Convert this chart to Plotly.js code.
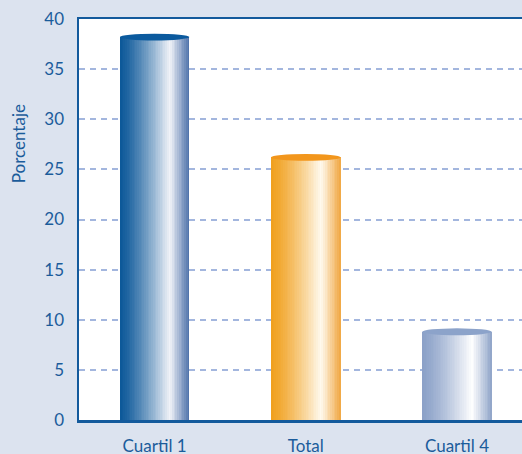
<!DOCTYPE html>
<html>
<head>
<meta charset="utf-8">
<script src="https://cdn.plot.ly/plotly-3.0.1.min.js"></script>
<style>
  html, body { margin: 0; padding: 0; background: #dce3ef; }
  #chart { width: 522px; height: 454px; }
</style>
</head>
<body>
<div id="chart"></div>
<script>
const categories = ["Cuartil 1", "Total", "Cuartil 4"];
const values = [38.2, 26.2, 8.8];
const yTicks = [0, 5, 10, 15, 20, 25, 30, 35, 40];

// cylinder shading: left edge, highlight, right edge, lid
const shadeLeft = ["#0c5899", "#f0a01e", "#8ba1c8"];
const shadeLight = ["#f3f4f9", "#fffaf0", "#ffffff"];
const shadeRight = ["#4a6fa8", "#f0a640", "#8ea3c8"];
const lidColor = ["#0b5a9e", "#f2961c", "#8ca3ca"];

const ink = "#1b5c9b";
const barWidth = 0.46;
const slices = 40;
const lidHalf = 0.34;

function hexToRgb(h) {
  return [1, 3, 5].map((i) => parseInt(h.slice(i, i + 2), 16));
}

function mix(a, b, t) {
  const ca = hexToRgb(a), cb = hexToRgb(b);
  const c = ca.map((v, i) => Math.round(v + (cb[i] - v) * t));
  return `rgb(${c[0]},${c[1]},${c[2]})`;
}

function shadeAt(i, t) {
  const peak = 0.72;
  if (t < peak) return mix(shadeLeft[i], shadeLight[i], Math.pow(t / peak, 1.3));
  return mix(shadeLight[i], shadeRight[i], (t - peak) / (1 - peak));
}

const traces = [];
for (let k = 0; k < slices; k++) {
  const t = (k + 0.5) / slices;
  const step = barWidth / slices;
  traces.push({
    type: "bar",
    x: categories,
    y: values,
    width: k === slices - 1 ? step : step * 1.6,
    offset: -barWidth / 2 + k * step,
    marker: { color: categories.map((_, i) => shadeAt(i, t)), line: { width: 0 } },
    hoverinfo: k === 0 ? "x+y" : "skip",
    showlegend: false,
  });
}

const shapes = values.map((v, i) => ({
  type: "circle",
  xref: "x",
  yref: "y",
  x0: i - barWidth / 2,
  x1: i + barWidth / 2,
  y0: v - lidHalf,
  y1: v + lidHalf,
  fillcolor: lidColor[i],
  line: { width: 0 },
  layer: "above",
}));

const layout = {
  width: 522,
  height: 454,
  margin: { l: 79, r: 0, t: 19, b: 34 },
  paper_bgcolor: "#dce3ef",
  plot_bgcolor: "#ffffff",
  font: { family: "Lato, 'Open Sans', sans-serif", color: ink, size: 17 },
  barmode: "overlay",
  bargap: 0,
  xaxis: {
    type: "category",
    range: [-0.5, 2.43],
    showgrid: false,
    showline: true,
    linecolor: "#135a9c",
    linewidth: 2.5,
    mirror: true,
    ticks: "outside",
    ticklen: 9,
    tickcolor: "rgba(0,0,0,0)",
    tickfont: { size: 17, color: ink },
    fixedrange: true,
  },
  yaxis: {
    range: [0, 40],
    tickvals: yTicks,
    showline: true,
    linecolor: "#135a9c",
    linewidth: 2.5,
    zeroline: false,
    gridcolor: "#a3b6de",
    gridwidth: 2,
    griddash: "6px,5px",
    ticks: "outside",
    ticklen: 9,
    tickcolor: "rgba(0,0,0,0)",
    tickfont: { size: 17, color: ink },
    fixedrange: true,
  },
  annotations: [
    {
      text: "Porcentaje",
      xref: "paper",
      yref: "paper",
      x: -0.138,
      y: 0.69,
      xanchor: "center",
      yanchor: "middle",
      textangle: -90,
      showarrow: false,
      font: { size: 17, color: ink },
    },
  ],
  shapes: shapes,
};

Plotly.newPlot("chart", traces, layout, { displayModeBar: false, staticPlot: true });
</script>
</body>
</html>
